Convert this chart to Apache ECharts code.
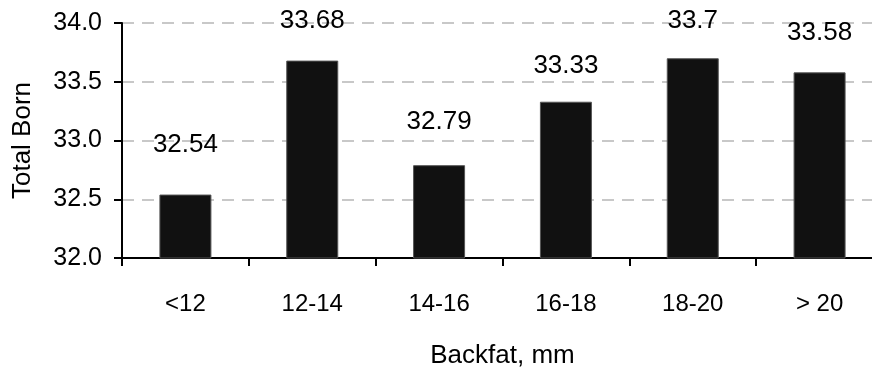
<!DOCTYPE html>
<html>
<head>
<meta charset="utf-8">
<script src="https://cdn.jsdelivr.net/npm/echarts@6/dist/echarts.min.js"></script>
<style>html,body{margin:0;padding:0;background:#fff;overflow:hidden}#c{width:900px;height:368px}</style>
</head>
<body>
<div id="c"></div>
<script>
var categories = ['<12', '12-14', '14-16', '16-18', '18-20', '> 20'];
var totalBorn = [32.54, 33.68, 32.79, 33.33, 33.7, 33.58];
var yMin = 32.0, yMax = 34.0, yInterval = 0.5;

var font = '"Liberation Sans", Arial, sans-serif';
var labelGaps = [37, 27, 30, 23, 24, 27];
var chart = echarts.init(document.getElementById('c'));
chart.setOption({
  animation: false,
  backgroundColor: '#fff',
  grid: { left: 122, top: 23, width: 761, height: 235, containLabel: false, outerBoundsMode: 'none' },
  xAxis: {
    type: 'category',
    data: categories,
    name: 'Backfat, mm',
    nameLocation: 'middle',
    nameGap: 85,
    nameTextStyle: { fontFamily: font, fontSize: 26, color: '#000' },
    axisLine: { lineStyle: { color: '#000', width: 2 } },
    axisTick: { show: true, length: 8, lineStyle: { color: '#000', width: 2 } },
    axisLabel: { fontFamily: font, fontSize: 24, color: '#000', margin: 34 },
    splitLine: { show: false }
  },
  yAxis: {
    type: 'value',
    min: yMin, max: yMax, interval: yInterval,
    name: 'Total Born',
    nameLocation: 'middle',
    nameGap: 86,
    nameTextStyle: { fontFamily: font, fontSize: 26, color: '#000' },
    axisLine: { show: true, lineStyle: { color: '#000', width: 2 } },
    axisTick: { show: true, length: 8, lineStyle: { color: '#000', width: 2 } },
    axisLabel: { fontFamily: font, fontSize: 25, color: '#000', margin: 20,
      formatter: function (v) { return v.toFixed(1); } },
    splitLine: { show: true, lineStyle: { color: '#c8c8c8', width: 2, type: [12, 8] } }
  },
  series: [{
    type: 'bar',
    data: totalBorn.map(function (v, i) {
      return { value: v, label: { distance: labelGaps[i] } };
    }),
    barWidth: 52,
    itemStyle: { color: '#111111', borderColor: '#555', borderWidth: 1 },
    label: { show: true, position: 'top', fontFamily: font, fontSize: 26, color: '#000' }
  }]
});
</script>
</body>
</html>
